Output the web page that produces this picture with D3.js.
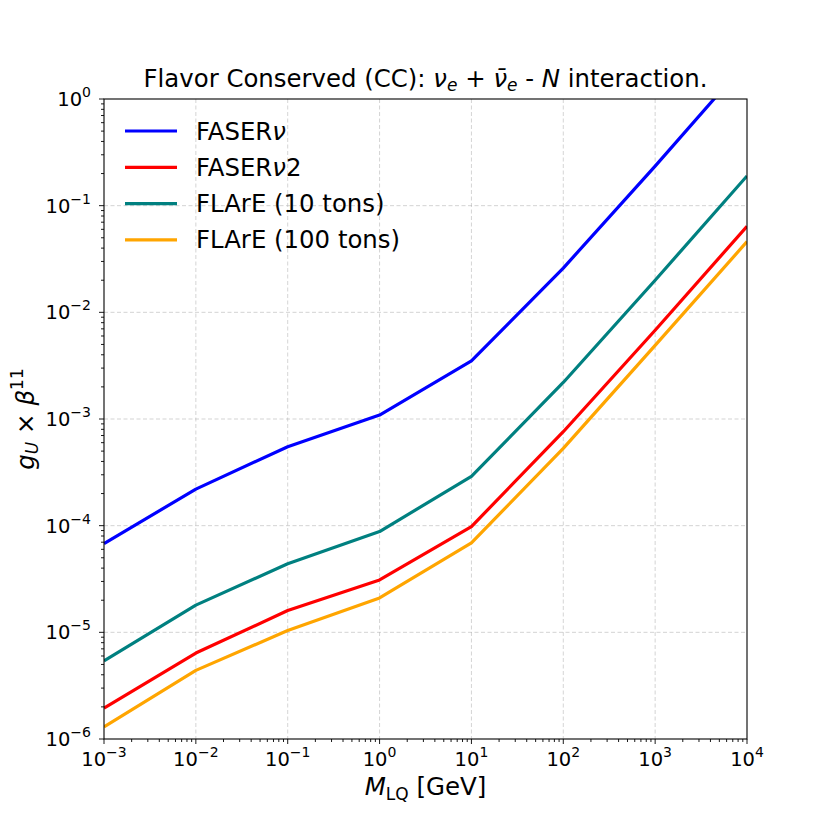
<!DOCTYPE html>
<html>
<head>
<meta charset="utf-8">
<script src="https://d3js.org/d3.v7.min.js"></script>
<style>
  body { margin: 0; background: #fff; }
  text { font-family: "DejaVu Sans", sans-serif; fill: #000; }
</style>
</head>
<body>
<svg width="830" height="830"></svg>
<script>
// values (mass in GeV, bound on g_U x beta^11)
var mass = [1e-3, 1e-2, 1e-1, 1, 10, 100, 1000, 10000];
var faserNu = [6.8e-5, 2.2e-4, 5.5e-4, 1.09e-3, 3.5e-3, 2.6e-2, 0.235, 2.25];
var faserNu2 = [1.95e-6, 6.4e-6, 1.6e-5, 3.1e-5, 9.8e-5, 7.6e-4, 6.8e-3, 6.4e-2];
var flare10 = [5.4e-6, 1.8e-5, 4.4e-5, 8.8e-5, 2.9e-4, 2.2e-3, 2.0e-2, 0.19];
var flare100 = [1.3e-6, 4.4e-6, 1.04e-5, 2.1e-5, 6.9e-5, 5.3e-4, 4.9e-3, 4.6e-2];
var seriesNames = ["FASER\u03bd", "FASER\u03bd2", "FLArE (10 tons)", "FLArE (100 tons)"];
var xTickExp = [-3, -2, -1, 0, 1, 2, 3, 4];
var yTickExp = [-6, -5, -4, -3, -2, -1, 0];

var colors = ["#0000ff", "#ff0000", "#008080", "#ffa500"];
var series = [faserNu, faserNu2, flare10, flare100].map(function(v, i) {
  return { name: seriesNames[i], color: colors[i], pts: v.map(function(y, j) { return [mass[j], y]; }) };
});

var svg = d3.select("svg"),
    margin = { top: 99, right: 83, bottom: 91, left: 104 },
    width = 830 - margin.left - margin.right,
    height = 830 - margin.top - margin.bottom,
    g = svg.append("g").attr("transform", "translate(" + margin.left + "," + margin.top + ")");

var x = d3.scaleLog().domain([1e-3, 1e4]).range([0, width]);
var y = d3.scaleLog().domain([1e-6, 1]).range([height, 0]);

svg.append("defs").append("clipPath").attr("id", "clip")
  .append("rect").attr("width", width).attr("height", height);

// grid
var grid = g.append("g").attr("stroke", "#b0b0b0").attr("stroke-opacity", 0.55)
  .attr("stroke-width", 1).attr("stroke-dasharray", "4,2.5");
grid.selectAll(".gx").data(xTickExp.slice(1, -1)).enter().append("line")
  .attr("x1", function(d) { return x(Math.pow(10, d)); })
  .attr("x2", function(d) { return x(Math.pow(10, d)); })
  .attr("y1", 0).attr("y2", height);
grid.selectAll(".gy").data(yTickExp.slice(1, -1)).enter().append("line")
  .attr("y1", function(d) { return y(Math.pow(10, d)); })
  .attr("y2", function(d) { return y(Math.pow(10, d)); })
  .attr("x1", 0).attr("x2", width);

// curves
var line = d3.line().x(function(d) { return x(d[0]); }).y(function(d) { return y(d[1]); });
g.append("g").attr("clip-path", "url(#clip)").selectAll("path").data(series).enter().append("path")
  .attr("fill", "none").attr("stroke", function(d) { return d.color; })
  .attr("stroke-width", 3.2).attr("stroke-linejoin", "round")
  .attr("d", function(d) { return line(d.pts); });

// minor ticks
var minorX = [], minorY = [];
xTickExp.slice(0, -1).forEach(function(e) { for (var k = 2; k < 10; k++) minorX.push(k * Math.pow(10, e)); });
yTickExp.slice(0, -1).forEach(function(e) { for (var k = 2; k < 10; k++) minorY.push(k * Math.pow(10, e)); });

var ticks = g.append("g").attr("stroke", "#000").attr("stroke-width", 0.9);
ticks.selectAll(".mx").data(minorX).enter().append("line")
  .attr("x1", x).attr("x2", x).attr("y1", height).attr("y2", height + 3);
ticks.selectAll(".my").data(minorY).enter().append("line")
  .attr("y1", y).attr("y2", y).attr("x1", 0).attr("x2", -3);
ticks.selectAll(".Mx").data(xTickExp).enter().append("line")
  .attr("x1", function(d) { return x(Math.pow(10, d)); })
  .attr("x2", function(d) { return x(Math.pow(10, d)); })
  .attr("y1", height).attr("y2", height + 5);
ticks.selectAll(".My").data(yTickExp).enter().append("line")
  .attr("y1", function(d) { return y(Math.pow(10, d)); })
  .attr("y2", function(d) { return y(Math.pow(10, d)); })
  .attr("x1", 0).attr("x2", -5);

// frame
g.append("rect").attr("width", width).attr("height", height)
  .attr("fill", "none").attr("stroke", "#000").attr("stroke-width", 1.1);

function expLabel(sel, e) {
  sel.append("tspan").text("10");
  sel.append("tspan").attr("dy", -9).attr("font-size", "14px")
    .text(e < 0 ? "\u2212" + (-e) : String(e));
}

g.selectAll(".xl").data(xTickExp).enter().append("text")
  .attr("x", function(d) { return x(Math.pow(10, d)); })
  .attr("y", height + 27).attr("text-anchor", "middle").attr("font-size", "19.5px")
  .each(function(d) { expLabel(d3.select(this), d); });

g.selectAll(".yl").data(yTickExp).enter().append("text")
  .attr("x", -13).attr("y", function(d) { return y(Math.pow(10, d)) + 7; })
  .attr("text-anchor", "end").attr("font-size", "19.5px")
  .each(function(d) { expLabel(d3.select(this), d); });

// title
var title = svg.append("text").attr("x", margin.left + width / 2).attr("y", 87)
  .attr("text-anchor", "middle").attr("font-size", "24.4px");
title.append("tspan").text("Flavor Conserved (CC): ");
title.append("tspan").attr("font-style", "italic").text("\u03bd");
title.append("tspan").attr("font-style", "italic").attr("font-size", "17px").attr("dy", 4).text("e");
title.append("tspan").attr("dy", -4).text(" + ");
title.append("tspan").attr("font-style", "italic").text("\u03bd\u0304");
title.append("tspan").attr("font-style", "italic").attr("font-size", "17px").attr("dy", 4).text("e");
title.append("tspan").attr("dy", -4).text(" - ");
title.append("tspan").attr("font-style", "italic").text("N");
title.append("tspan").text(" interaction.");

// x label
var xl = svg.append("text").attr("x", margin.left + width / 2).attr("y", 795)
  .attr("text-anchor", "middle").attr("font-size", "24.5px");
xl.append("tspan").attr("font-style", "italic").text("M");
xl.append("tspan").attr("font-size", "17px").attr("dy", 5).text("LQ");
xl.append("tspan").attr("dy", -5).text(" [GeV]");

// y label
var yl = svg.append("text").attr("transform", "translate(34," + (margin.top + height / 2) + ") rotate(-90)")
  .attr("text-anchor", "middle").attr("font-size", "24.5px");
yl.append("tspan").attr("font-style", "italic").text("g");
yl.append("tspan").attr("font-style", "italic").attr("font-size", "17px").attr("dy", 4).text("U");
yl.append("tspan").attr("dy", -4).text(" \u00d7 ");
yl.append("tspan").attr("font-style", "italic").text("\u03b2");
yl.append("tspan").attr("font-size", "17px").attr("dy", -11).text("11");

// legend (nu set in italic as in the math text)
var legend = g.append("g").selectAll("g").data(series).enter().append("g")
  .attr("transform", function(d, i) { return "translate(0," + (32 + i * 36.3) + ")"; });
legend.append("line").attr("x1", 21).attr("x2", 73)
  .attr("stroke", function(d) { return d.color; }).attr("stroke-width", 3.2);
legend.append("text").attr("x", 92).attr("y", 8.5).attr("font-size", "24.4px")
  .each(function(d) {
    var t = d3.select(this);
    d.name.split(/(\u03bd)/).forEach(function(part) {
      if (!part) return;
      var s = t.append("tspan").text(part);
      if (part === "\u03bd") s.attr("font-style", "italic");
    });
  });
</script>
</body>
</html>
